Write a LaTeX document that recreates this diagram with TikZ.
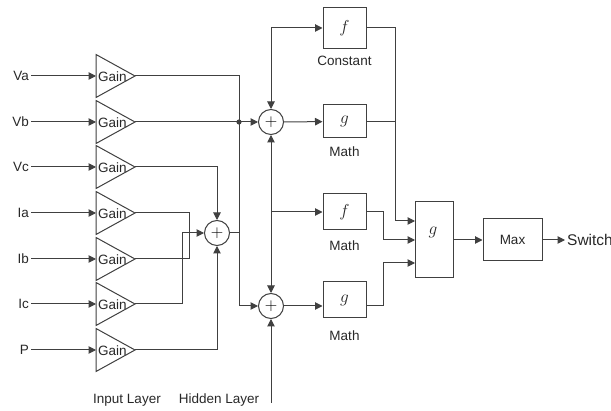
\documentclass[tikz,border=0pt]{standalone}
\usepackage{fontspec}
\setmainfont{Liberation Sans}
\usetikzlibrary{arrows.meta}
\definecolor{wire}{RGB}{64,64,64}
\definecolor{txt}{RGB}{40,40,40}
\tikzset{
  wireline/.style={draw=wire, line width=1pt},
  arr/.style={wireline, -{Triangle[length=7.5pt,width=7.5pt]}},
  blockbox/.style={draw=wire, line width=1pt, fill=white, inner sep=0pt},
  sumnode/.style={circle, draw=wire, line width=1pt, minimum size=25pt, inner sep=0pt, font=\fontsize{16}{16}\selectfont},
  lbl/.style={text=txt, font=\fontsize{13.5}{14}\selectfont, inner sep=2pt},
  fnlbl/.style={text=txt, font=\fontsize{19}{19}\selectfont},
  gaintri/.style={draw=wire, line width=1pt, fill=white},
}
\begin{document}
\begin{tikzpicture}[x=1pt,y=-1pt]
\useasboundingbox (0,0) rectangle (611,411);
% gains
\foreach \nm/\yy in {Va/76,Vb/122,Vc/167,Ia/213,Ib/259,Ic/304,P/350}{
  \draw[gaintri] (96,\yy-21.5) -- (135,\yy) -- (96,\yy+21.5) -- cycle;
  \coordinate (in\nm) at (96,\yy);
  \coordinate (out\nm) at (135,\yy);
  \node[lbl, anchor=west] (gt\nm) at (96,\yy+1) {Gain};
  \node[lbl, anchor=east] (lab\nm) at (31,\yy) {\nm};
  \draw[arr] (lab\nm.east) -- (in\nm);
}
% sums
\node[sumnode] (sum0) at (217,233) {$+$};
\node[sumnode] (sum1) at (271,122) {$+$};
\node[sumnode] (sum2) at (271,306) {$+$};
% blocks
\node[blockbox, minimum width=43pt, minimum height=41pt] (fC) at (344.5,28) {};
\node[fnlbl] (fCl) at (344.5,28) {$f$};
\node[blockbox, minimum width=43pt, minimum height=33pt] (gM1) at (344.5,121.5) {};
\node[fnlbl] (gM1l) at (344.5,121.5) {$g$};
\node[blockbox, minimum width=43pt, minimum height=36pt] (fM) at (344.5,212) {};
\node[fnlbl] (fMl) at (344.5,212) {$f$};
\node[blockbox, minimum width=43pt, minimum height=36pt] (gM2) at (344.5,300) {};
\node[fnlbl] (gM2l) at (344.5,300) {$g$};
\node[blockbox, minimum width=38pt, minimum height=76pt] (G) at (434,240) {};
\node[fnlbl] (Gl) at (433,232) {$g$};
\node[blockbox, minimum width=59pt, minimum height=42pt, text=txt, font=\fontsize{13.5}{14}\selectfont] (Max) at (512.5,240) {Max};
% labels
\node[lbl] (lC) at (344.5,61) {Constant};
\node[lbl] (lM1) at (344.5,152) {Math};
\node[lbl] (lM2) at (344.5,246) {Math};
\node[lbl] (lM3) at (344.5,336) {Math};
\node[lbl] (lIn) at (127,400) {Input Layer};
\node[lbl] (lHid) at (219,400) {Hidden Layer};
\node[lbl, anchor=west, font=\fontsize{15.5}{16}\selectfont] (sw) at (565,239.5) {Switch};
% junctions
\coordinate (dot) at (239,122);
\coordinate (jA) at (239,233);
\coordinate (top) at (271,28);
\coordinate (mid) at (271,212);
\coordinate (bot) at (271,403);
\coordinate (swin) at (565,240);
\fill[wire] (dot) circle (2.6pt);
% gain wiring
\draw[wireline] (outVa) -| (dot);
\draw[arr] (dot) |- (sum2);
\draw[arr] (outVb) -- (sum1);
\draw[arr] (outVc) -| (sum0);
\draw[wireline] (outIa) -| (189,259) -- (outIb);
\draw[arr] (outIc) -| (182,233) -- (sum0);
\draw[arr] (outP) -| (sum0);
\draw[wireline] (sum0) -- (jA);
% hidden wiring
\draw[arr] (top) -- (fC);
\draw[arr] (top) -- (sum1);
\draw[arr] (mid) -- (sum1);
\draw[arr] (mid) -- (sum2);
\draw[arr] (mid) -- (fM);
\draw[arr] (bot) -- (sum2);
\draw[arr] (sum1) -- (gM1);
\draw[arr] (sum2) -- (sum2 -| gM2.west);
% output wiring
\draw[arr] (fC.east) -| (395,221) -- (415,221);
\draw[wireline] (gM1.east) -- (395,121.5);
\draw[arr] (fM.east) -| (383,240) -- (415,240);
\draw[arr] (gM2.east |- sum2) -| (383,263) -- (415,263);
\draw[arr] (G.east) -- (Max.west);
\draw[arr] (Max.east) -- (swin);
\end{tikzpicture}
\end{document}
